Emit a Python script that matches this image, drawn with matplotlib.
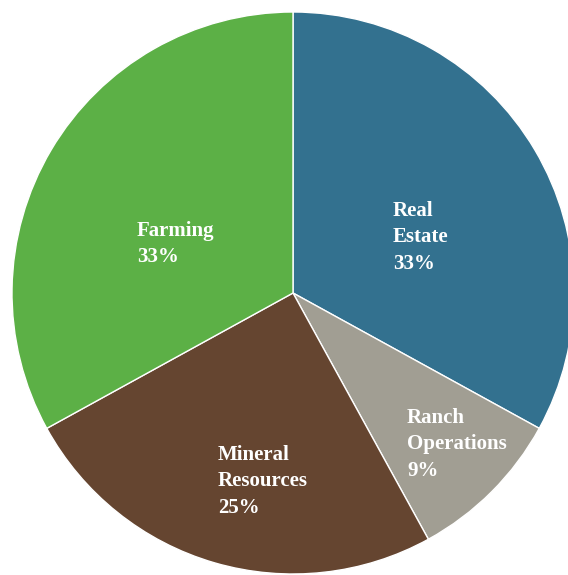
import matplotlib.pyplot as plt

labels = ['Real\nEstate', 'Ranch\nOperations', 'Mineral\nResources', 'Farming']
shares = [33, 9, 25, 33]
colors = ['#33718F', '#A19E93', '#654530', '#5CB046']

# text anchor (left, top) in pixel coords from top-left
label_pos = [(393, 201), (407, 408), (218, 445), (137, 221)]

W, H = 568, 575
fig = plt.figure(figsize=(W / 100, H / 100), dpi=100)
ax = fig.add_axes([0, 0, 1, 1])

cx, cy, r = 293, H - 293, 281
ax.pie(shares, colors=colors, startangle=90, counterclock=False,
       center=(cx, cy), radius=r, frame=True,
       wedgeprops=dict(edgecolor='white', linewidth=1))
ax.set_xlim(0, W)
ax.set_ylim(0, H)
ax.set_aspect('equal')
ax.axis('off')

for lab, s, (x, y) in zip(labels, shares, label_pos):
    ax.text(x, H - y, f'{lab}\n{s}%', color='white', fontsize=15,
            fontweight='bold', family='Liberation Serif',
            ha='left', va='top', linespacing=1.42)

fig.savefig('out.png', dpi=100)
